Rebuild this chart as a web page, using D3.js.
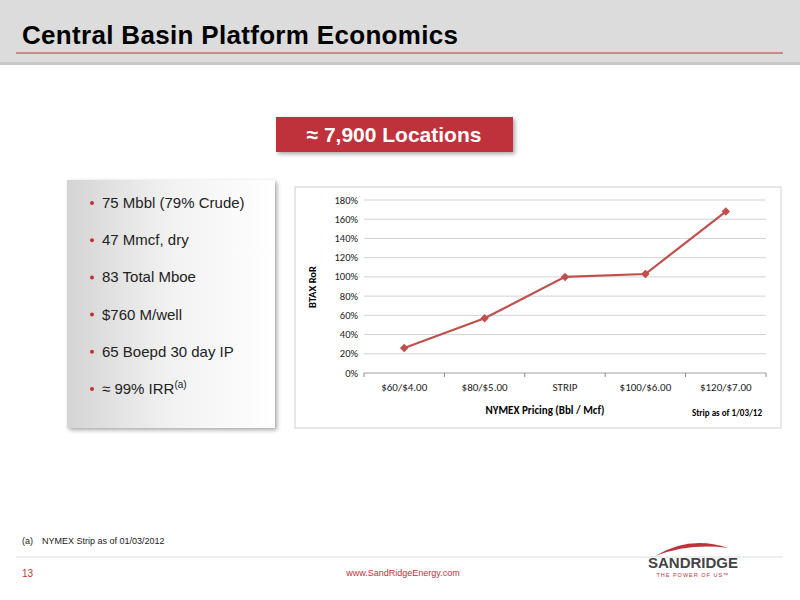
<!DOCTYPE html>
<html><head><meta charset="utf-8">
<script src="https://cdn.jsdelivr.net/npm/d3@7"></script>
<style>body{margin:0;background:#fff}svg{display:block;font-family:"Liberation Sans",Arial,sans-serif}</style>
</head><body><svg id="c" width="800" height="600"></svg>
<script>
const categories = ["$60/$4.00", "$80/$5.00", "STRIP", "$100/$6.00", "$120/$7.00"];
const ror = [0.26, 0.57, 1.00, 1.03, 1.68];
const yTicks = [0, 0.2, 0.4, 0.6, 0.8, 1.0, 1.2, 1.4, 1.6, 1.8];
const bullets = ["75 Mbbl  (79% Crude)", "47 Mmcf, dry", "83 Total Mboe", "$760 M/well", "65 Boepd 30 day IP", "≈ 99% IRR"];

const svg = d3.select("#c");
const defs = svg.append("defs");
const sh = defs.append("filter").attr("id", "sh").attr("x", "-10%").attr("y", "-10%").attr("width", "130%").attr("height", "130%");
sh.append("feDropShadow").attr("dx", 2).attr("dy", 2).attr("stdDeviation", 2).attr("flood-opacity", 0.35);
const gr = defs.append("linearGradient").attr("id", "gp").attr("x1", 0).attr("x2", 1);
gr.append("stop").attr("offset", 0).attr("stop-color", "#d4d4d4");
gr.append("stop").attr("offset", 0.5).attr("stop-color", "#f2f2f2");
gr.append("stop").attr("offset", 1).attr("stop-color", "#ffffff");

// header
svg.append("rect").attr("width", 800).attr("height", 62).attr("fill", "#dcdcdc");
svg.append("rect").attr("y", 62).attr("width", 800).attr("height", 3).attr("fill", "#c8c8c8");
svg.append("line").attr("x1", 16).attr("x2", 783).attr("y1", 53).attr("y2", 53).attr("stroke", "#c0323a").attr("stroke-width", 1.2);
svg.append("text").attr("x", 22).attr("y", 44).attr("font-size", 26).attr("font-weight", "bold").attr("fill", "#000")
  .attr("textLength", 436).text("Central Basin Platform Economics");

// locations box
svg.append("rect").attr("x", 276).attr("y", 117).attr("width", 237).attr("height", 35).attr("fill", "#c0323a").attr("filter", "url(#sh)");
svg.append("text").attr("x", 394).attr("y", 142).attr("text-anchor", "middle").attr("font-size", 21).attr("font-weight", "bold").attr("fill", "#fff")
  .text("≈ 7,900  Locations");

// bullets panel
svg.append("rect").attr("x", 67).attr("y", 180).attr("width", 208).attr("height", 248).attr("fill", "url(#gp)").attr("filter", "url(#sh)");
const bg = svg.append("g").selectAll("g").data(bullets).join("g")
  .attr("transform", (d, i) => `translate(92,${208 + i * 37.2})`);
bg.append("circle").attr("cx", 0).attr("cy", -5).attr("r", 2).attr("fill", "#c0323a");
bg.append("text").attr("x", 10).attr("font-size", 15).attr("fill", "#222")
  .text(d => d).filter((d, i) => i === bullets.length - 1)
  .append("tspan").attr("font-size", 10).attr("dy", -6).text("(a)");

// chart box
svg.append("rect").attr("x", 295).attr("y", 187).attr("width", 486).attr("height", 241).attr("fill", "#fff").attr("stroke", "#d0d0d0");
const x = d3.scalePoint().domain(categories).range([364, 766]).padding(0.5);
const y = d3.scaleLinear().domain([0, 1.8]).range([373, 200]);
const g = svg.append("g").attr("font-family", "Calibri,Carlito,'DejaVu Sans Condensed',sans-serif");
g.selectAll(".gl").data(yTicks).join("line")
  .attr("x1", 364).attr("x2", 766).attr("y1", y).attr("y2", y)
  .attr("stroke", d => d === 0 ? "#888" : "#c8c8c8").attr("stroke-width", 0.8);
g.selectAll(".yl").data(yTicks).join("text")
  .attr("x", 358).attr("y", d => y(d) + 3.5).attr("text-anchor", "end").attr("font-size", 10.5).attr("fill", "#222")
  .text(d => d3.format(".0%")(d));
const step = x.step();
g.selectAll(".tk").data(d3.range(categories.length + 1)).join("line")
  .attr("x1", i => 364 + i * step).attr("x2", i => 364 + i * step).attr("y1", 373).attr("y2", 377).attr("stroke", "#888");
g.selectAll(".xl").data(categories).join("text")
  .attr("x", x).attr("y", 391).attr("text-anchor", "middle").attr("font-size", 11).attr("fill", "#222").text(d => d);
g.append("text").attr("x", 545).attr("y", 414).attr("text-anchor", "middle").attr("font-size", 11).attr("font-weight", "bold").text("NYMEX Pricing  (Bbl  / Mcf)");
g.append("text").attr("x", 727).attr("y", 416).attr("text-anchor", "middle").attr("font-size", 9).attr("font-weight", "bold").text("Strip as of 1/03/12");
g.append("text").attr("transform", "translate(316,287) rotate(-90)").attr("text-anchor", "middle").attr("font-size", 10.5).attr("font-weight", "bold").text("BTAX RoR");

const line = d3.line().x((d, i) => x(categories[i])).y(d => y(d));
g.append("path").datum(ror).attr("d", line).attr("fill", "none").attr("stroke", "#c0504d").attr("stroke-width", 2.2);
g.selectAll(".pt").data(ror).join("path")
  .attr("d", d3.symbol(d3.symbolSquare, 36))
  .attr("transform", (d, i) => `translate(${x(categories[i])},${y(d)}) rotate(45)`).attr("fill", "#c0504d");

// footer
svg.append("text").attr("x", 22).attr("y", 544).attr("font-size", 9).attr("fill", "#222").text("(a)");
svg.append("text").attr("x", 42).attr("y", 544).attr("font-size", 9).attr("fill", "#222").text("NYMEX Strip as of 01/03/2012");
svg.append("line").attr("x1", 16).attr("x2", 783).attr("y1", 557).attr("y2", 557).attr("stroke", "#ddd");
svg.append("text").attr("x", 22).attr("y", 577).attr("font-size", 10).attr("fill", "#c0323a").text("13");
svg.append("text").attr("x", 403).attr("y", 576).attr("text-anchor", "middle").attr("font-size", 9).attr("fill", "#c0323a").text("www.SandRidgeEnergy.com");
svg.append("path").attr("d", "M655,556 Q690,535 728,548 Q690,543 655,556Z").attr("fill", "#c0323a");
svg.append("text").attr("x", 693).attr("y", 568).attr("text-anchor", "middle").attr("font-size", 15).attr("font-weight", "bold").attr("fill", "#444").text("SANDRIDGE");
svg.append("text").attr("x", 693).attr("y", 577).attr("text-anchor", "middle").attr("font-size", 5.5).attr("fill", "#c0323a").attr("letter-spacing", 1).text("THE POWER OF US™");
</script></body></html>
